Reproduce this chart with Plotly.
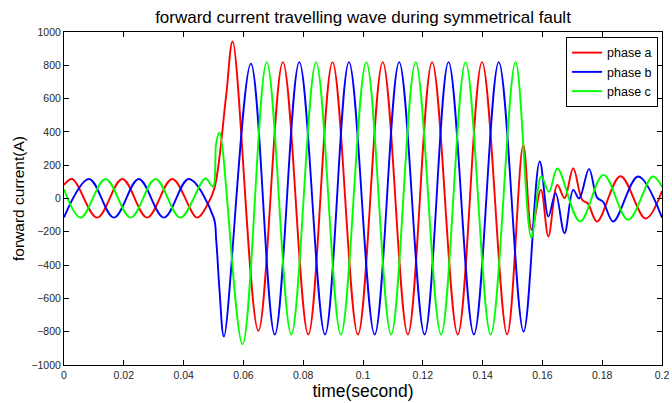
import numpy as np
import plotly.graph_objects as go

# Values (time in ms, current in A) – extrema/key points of each phase
red_t = [0, 2.8, 11.1, 19.5, 27.8, 36.2, 44.5, 48.0, 50.4, 54.2, 56.4, 65.0, 73.2, 81.7, 89.8, 98.3,
         106.6, 115.0, 123.1, 131.7, 139.8, 148.2, 153.6, 156.4, 159.5, 162.0, 165.0, 167.4, 170.3,
         173.3, 175.2, 178.3, 186.1, 194.5, 200]
red_v = [82, 117, -115, 117, -115, 117, -115, -36, 68, 613, 943, -795, 819, -817, 819, -817,
         819, -817, 819, -817, 819, -817, 322, -188, 52, -228, 82, 2, 182,
         -8, -30, -138, 134, -120, 45]

blue_t = [0, 8.4, 16.7, 25.0, 33.4, 41.7, 50.0, 50.9, 52.0, 53.5, 62.5, 70.5, 78.7, 87.3, 95.3,
          103.9, 112.1, 120.6, 128.6, 137.1, 145.4, 153.7, 159.1, 162.0, 164.4, 167.4, 170.3,
          172.3, 175.6, 178.3, 180.3, 183.7, 192.0, 200]
blue_v = [-113, 117, -115, 117, -115, 117, -112, -248, -548, -829, 810, -817, 819, -817, 819,
          -817, 819, -817, 819, -817, 819, -799, 222, -108, 32, -208, 52,
          0, 178, 5, -20, -138, 132, -115]

green_t = [0, 5.6, 13.9, 22.3, 30.6, 38.9, 47.3, 49.8, 50.9, 52.0, 59.7, 67.8, 76.0, 84.3, 92.6,
           101.1, 109.4, 117.6, 126.1, 134.3, 142.7, 151.0, 156.3, 159.6, 162.2, 165.0, 172.6,
           180.4, 188.7, 196.9, 200]
green_v = [55, -115, 117, -115, 117, -115, 120, 72, 333, 396, -875, 819, -817, 819, -817,
           819, -817, 819, -817, 819, -817, 819, -235, 132, 40, 180, -138,
           142, -128, 132, 70]

series_names = ["phase a", "phase b", "phase c"]
series_colors = ["#ff0000", "#0000ff", "#00ff00"]

x_ticks = [0, 0.02, 0.04, 0.06, 0.08, 0.1, 0.12, 0.14, 0.16, 0.18, 0.2]
x_ticklabels = ["0", "0.02", "0.04", "0.06", "0.08", "0.1", "0.12", "0.14", "0.16", "0.18", "0.2"]
y_ticks = list(range(-1000, 1001, 200))

FONT = "Liberation Sans, Arial, sans-serif"

fig = go.Figure()
for name, color, t, v in zip(series_names, series_colors,
                             [red_t, blue_t, green_t], [red_v, blue_v, green_v]):
    fig.add_trace(go.Scatter(
        x=np.array(t) / 1000.0, y=v, mode="lines", name=name,
        line=dict(color=color, width=1.9, shape="spline", smoothing=1.0),
    ))

axis_common = dict(
    showline=True, linecolor="#000000", linewidth=1, mirror="ticks",
    ticks="inside", ticklen=5, tickcolor="#000000", showgrid=False, zeroline=False,
    tickfont=dict(family=FONT, size=10.5, color="#262626"),
    ticklabeloverflow="allow",
)

fig.update_layout(
    width=672, height=403,
    margin=dict(l=64, r=3, t=32, b=38),
    paper_bgcolor="white", plot_bgcolor="white",
    title=dict(text="forward current travelling wave during symmetrical fault",
               font=dict(family=FONT, size=17, color="#000000"),
               x=0.5, xref="paper", xanchor="center", y=1 - 17 / 403, yanchor="middle"),
    xaxis=dict(range=[0, 0.2], tickvals=x_ticks, ticktext=x_ticklabels,
               title=dict(text="time(second)", font=dict(family=FONT, size=17.5, color="#000000"),
                          standoff=1),
               **axis_common),
    yaxis=dict(range=[-1000, 1000], tickvals=y_ticks,
               title=dict(text="forward current(A)", font=dict(family=FONT, size=15.5, color="#000000"),
                          standoff=2),
               **axis_common),
    legend=dict(x=0.9934, y=0.985, xanchor="right", yanchor="top",
                bgcolor="white", bordercolor="#000000", borderwidth=1,
                font=dict(family=FONT, size=12.5, color="#000000"),
                itemwidth=30, tracegroupgap=0),
    showlegend=True,
)

fig.write_html("out.html")
